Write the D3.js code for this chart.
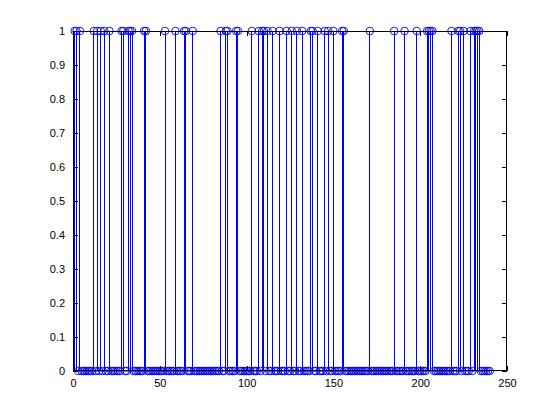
<!DOCTYPE html>
<html><head><meta charset="utf-8">
<script src="https://cdn.jsdelivr.net/npm/d3@7"></script>
<style>body{margin:0;background:#fff}svg{display:block}text{font-family:"Liberation Sans",Arial,sans-serif;font-size:11px;fill:#000}</style>
</head><body><svg id="c" width="560" height="418"></svg>
<script>
// stem values for indices 1..240
const values = [
1,1,0,1,0,0,0,0,0,0,0,1,0,1,0,1,0,1,0,0,
1,0,0,0,0,0,0,1,1,0,0,1,1,1,0,0,0,0,0,0,
1,1,0,0,0,0,0,0,0,0,0,0,1,0,0,0,0,0,1,0,
0,0,0,1,1,0,0,0,1,0,0,0,0,0,0,0,0,0,0,0,
0,0,0,0,1,0,0,1,1,0,0,0,0,1,1,0,0,0,0,0,
0,0,1,0,0,0,1,0,1,1,0,1,0,0,1,0,0,0,1,0,
0,0,1,0,0,1,0,0,1,0,0,1,0,0,0,0,1,1,0,0,
1,0,0,0,1,0,1,0,0,1,0,0,0,0,1,1,0,0,0,0,
0,0,0,0,0,0,0,0,0,0,1,0,0,0,0,0,0,0,0,0,
0,0,0,0,1,0,0,0,0,0,1,0,0,0,0,0,0,1,0,0,
0,0,0,1,1,1,1,0,0,0,0,0,0,0,0,0,0,1,0,0,
0,1,1,0,1,0,0,0,1,0,1,1,1,1,0,0,0,0,0,0
];
const xTicks = [0,50,100,150,200,250];
const yTicks = [0,0.1,0.2,0.3,0.4,0.5,0.6,0.7,0.8,0.9,1];

const L=73,R=507,T=31,B=371;
const svg=d3.select("#c");
const x=d3.scaleLinear().domain([0,250]).range([L,R]);
const y=d3.scaleLinear().domain([0,1]).range([B,T]);
const data=values.map((v,i)=>({i:i+1,v}));
const blue="#0000ff";
const g=svg.append("g");
g.selectAll("line.stem").data(data.filter(d=>d.v!==0)).join("line")
 .attr("x1",d=>x(d.i)).attr("x2",d=>x(d.i)).attr("y1",y(0)).attr("y2",d=>y(d.v))
 .attr("stroke",blue).attr("stroke-width",1).attr("shape-rendering","crispEdges");
// baseline
g.append("line").attr("x1",x(1)).attr("x2",x(values.length)).attr("y1",y(0)).attr("y2",y(0)).attr("stroke",blue);
g.selectAll("circle").data(data).join("circle")
 .attr("cx",d=>x(d.i)).attr("cy",d=>y(d.v)).attr("r",3.8)
 .attr("fill","none").attr("stroke",blue).attr("stroke-width",0.9);

// box & axes (MATLAB style ticks inside on all sides)
const tl=5;
const ax=svg.append("g").attr("transform",`translate(0,${B})`).call(d3.axisBottom(x).tickValues(xTicks).tickSizeInner(-tl).tickSizeOuter(0).tickPadding(8));
const axT=svg.append("g").attr("transform",`translate(0,${T})`).call(d3.axisTop(x).tickValues(xTicks).tickSizeInner(-tl).tickSizeOuter(0).tickFormat(""));
const ay=svg.append("g").attr("transform",`translate(${L},0)`).call(d3.axisLeft(y).tickValues(yTicks).tickSizeInner(-tl).tickSizeOuter(0).tickPadding(8).tickFormat(d3.format("")));
const ayR=svg.append("g").attr("transform",`translate(${R},0)`).call(d3.axisRight(y).tickValues(yTicks).tickSizeInner(-tl).tickSizeOuter(0).tickFormat(""));
svg.selectAll(".domain").remove();
svg.selectAll(".tick line").attr("stroke","#000").attr("shape-rendering","crispEdges");
svg.selectAll(".tick text").attr("fill","#000").style("font-size","11px").style("font-family","'Liberation Sans',Arial,sans-serif");
svg.append("rect").attr("x",L+0.5).attr("y",T+0.5).attr("width",R-L-1).attr("height",B-T-1)
 .attr("fill","none").attr("stroke","#000").attr("shape-rendering","crispEdges");
</script></body></html>
